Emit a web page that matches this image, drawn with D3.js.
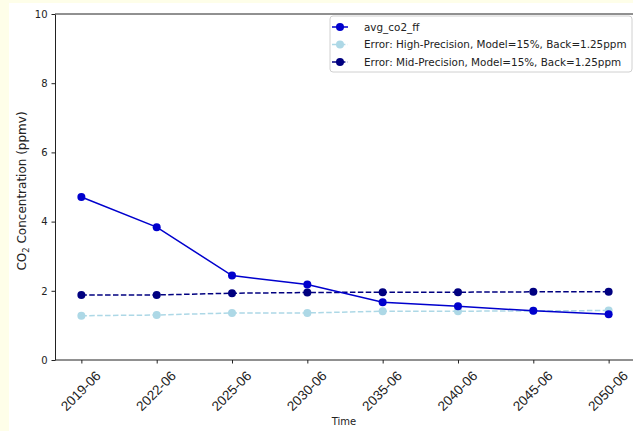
<!DOCTYPE html>
<html>
<head>
<meta charset="utf-8">
<script src="https://cdn.jsdelivr.net/npm/d3@7"></script>
<style>
  html, body { margin: 0; padding: 0; background: #fefee9; }
  body { width: 633px; height: 431px; overflow: hidden; position: relative; }
  svg { position: absolute; left: 9px; top: 3px; background: #fff; font-family: "DejaVu Sans", sans-serif; }
  .axis text { fill: #222; }
  .axis path, .axis line { stroke: #222; }
</style>
</head>
<body>
<svg id="chart"></svg>
<script>
// data
const periods = ["2019-06", "2022-06", "2025-06", "2030-06", "2035-06", "2040-06", "2045-06", "2050-06"];
const avgCo2ff = [4.71, 3.84, 2.44, 2.18, 1.67, 1.55, 1.42, 1.32];
const errHigh = [1.28, 1.30, 1.36, 1.36, 1.41, 1.41, 1.42, 1.43];
const errMid = [1.88, 1.88, 1.93, 1.95, 1.96, 1.96, 1.97, 1.97];
const yTicks = [0, 2, 4, 6, 8, 10];

const seriesList = [
    { name: "avg_co2_ff", values: avgCo2ff, color: "#0000cd", dash: null },
    { name: "Error: High-Precision, Model=15%, Back=1.25ppm", values: errHigh, color: "#add8e6", dash: "5.5,2.4" },
    { name: "Error: Mid-Precision, Model=15%, Back=1.25ppm", values: errMid, color: "#000080", dash: "5.5,2.4" },
];

const width = 624, height = 428;
const margin = { top: 11, right: -2, bottom: 71, left: 46 };
const innerW = width - margin.left - margin.right;
const innerH = height - margin.top - margin.bottom;

const svg = d3.select("#chart")
    .attr("width", width)
    .attr("height", height);

const g = svg.append("g")
    .attr("transform", `translate(${margin.left}, ${margin.top})`);

// categorical axis with matplotlib-like 0.35 step padding on each side
const xScale = d3.scalePoint()
    .domain(periods)
    .range([0, innerW])
    .padding(0.35);

const yScale = d3.scaleLinear()
    .domain([0, 10])
    .range([innerH, 0]);

// frame (top spine reaches past the right edge)
g.append("line")
    .attr("x1", 0).attr("x2", innerW + 5)
    .attr("y1", 0).attr("y2", 0)
    .attr("stroke", "#222");

const xAxis = g.append("g")
    .attr("class", "axis x-axis")
    .attr("transform", `translate(0, ${innerH})`)
    .call(d3.axisBottom(xScale).tickSize(3.5).tickSizeOuter(0).tickFormat(""));

xAxis.select(".domain").attr("d", `M0,0H${innerW + 5}`);

xAxis.selectAll(".tick").append("text")
    .attr("fill", "#222")
    .attr("font-size", 13.5)
    .attr("text-anchor", "middle")
    .attr("dominant-baseline", "central")
    .attr("transform", "translate(-1, 31) rotate(-45)")
    .text((d) => d);

g.append("g")
    .attr("class", "axis y-axis")
    .call(d3.axisLeft(yScale).tickValues(yTicks).tickSize(3.5).tickPadding(4).tickSizeOuter(0))
    .call((sel) => sel.selectAll("text").attr("font-size", 10).attr("font-family", "DejaVu Sans, sans-serif"));

// axis labels
g.append("text")
    .attr("x", (xScale("2035-06") + xScale("2030-06")) / 2 - 1)
    .attr("y", innerH + 65)
    .attr("text-anchor", "middle")
    .attr("font-size", 10)
    .attr("fill", "#222")
    .text("Time");

const yLabel = g.append("text")
    .attr("transform", `translate(-29, ${innerH / 2 + 4}) rotate(-90)`)
    .attr("text-anchor", "middle")
    .attr("font-size", 12)
    .attr("fill", "#222");
yLabel.append("tspan").text("CO");
yLabel.append("tspan").attr("font-size", 8.5).attr("dy", 3).text("2");
yLabel.append("tspan").attr("dy", -3).text(" Concentration (ppmv)");

// series
const line = d3.line()
    .x((d, i) => xScale(periods[i]))
    .y((d) => yScale(d));

// draw light series first, then mid, then avg on top like the reference layering
const drawOrder = [1, 2, 0];
drawOrder.forEach((k) => {
    const s = seriesList[k];
    const sg = g.append("g").attr("class", "series");
    sg.append("path")
        .datum(s.values)
        .attr("fill", "none")
        .attr("stroke", s.color)
        .attr("stroke-width", 1.5)
        .attr("stroke-dasharray", s.dash)
        .attr("d", line);
    sg.selectAll("circle")
        .data(s.values)
        .join("circle")
        .attr("cx", (d, i) => xScale(periods[i]))
        .attr("cy", (d) => yScale(d))
        .attr("r", 4)
        .attr("fill", s.color);
});

// legend
const legend = g.append("g")
    .attr("transform", `translate(${innerW - 305}, 2)`);

legend.append("rect")
    .attr("width", 302)
    .attr("height", 56)
    .attr("rx", 3)
    .attr("fill", "rgba(255,255,255,0.8)")
    .attr("stroke", "#d0d0d0");

seriesList.forEach((s, i) => {
    const row = legend.append("g")
        .attr("transform", `translate(0, ${11 + i * 17.5})`);
    row.append("line")
        .attr("x1", 2).attr("x2", 18)
        .attr("stroke", s.color)
        .attr("stroke-width", 1.5)
        .attr("stroke-dasharray", s.dash);
    row.append("circle")
        .attr("cx", 10)
        .attr("r", 4)
        .attr("fill", s.color);
    row.append("text")
        .attr("x", 34)
        .attr("dy", "0.35em")
        .attr("font-size", 10.4)
        .attr("fill", "#222")
        .text(s.name);
});
</script>
</body>
</html>
